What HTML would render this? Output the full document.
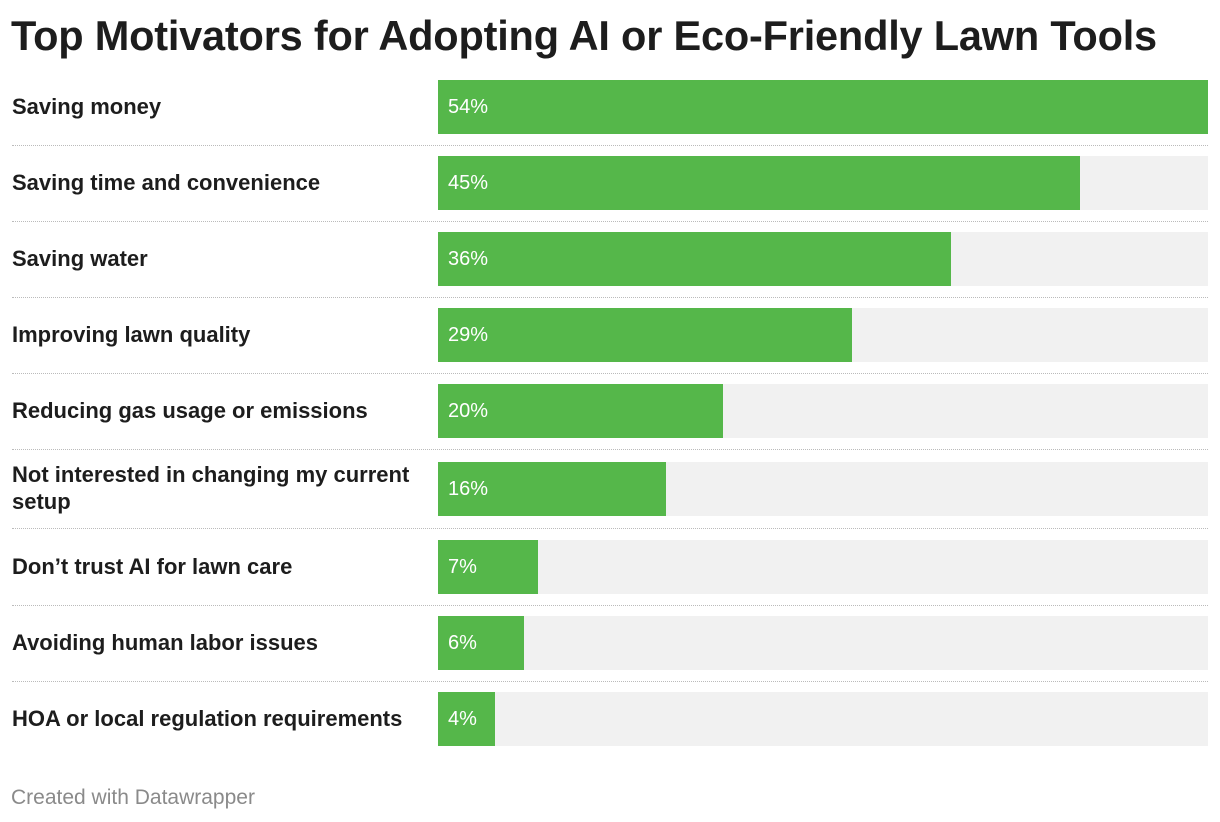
<!DOCTYPE html>
<html><head><meta charset="utf-8">
<style>
body{margin:0;background:#fff;font-family:"Liberation Sans",Arial,sans-serif;}
#wrap{position:relative;width:1220px;height:822px;overflow:hidden;}
h1{position:absolute;left:11px;top:12px;margin:0;font-size:41.5px;font-weight:bold;color:#1d1d1d;letter-spacing:-0.2px;white-space:nowrap;}
.lbl{position:absolute;left:12px;width:420px;font-size:22px;font-weight:bold;color:#1d1d1d;line-height:27px;}
.bg{position:absolute;left:438px;width:770px;height:54px;background:#f1f1f1;}
.bar{position:absolute;left:438px;height:54px;background:#55b74a;}
.val{position:absolute;left:448px;font-size:20px;color:#fff;line-height:54px;}
.sep{position:absolute;left:12px;width:1196px;border-top:1px dotted #bbb;}
#foot{position:absolute;left:11px;top:786px;font-size:21px;color:#8a8a8a;}
</style></head><body>
<div id="wrap">
<h1>Top Motivators for Adopting AI or Eco-Friendly Lawn Tools</h1>
<div id="rows"></div>
<div id="foot">Created with Datawrapper</div>
</div>
<script>
const categories=["Saving money","Saving time and convenience","Saving water","Improving lawn quality","Reducing gas usage or emissions","Not interested in changing my current setup","Don’t trust AI for lawn care","Avoiding human labor issues","HOA or local regulation requirements"];
const values=[54,45,36,29,20,16,7,6,4];
const valueLabels=["54%","45%","36%","29%","20%","16%","7%","6%","4%"];
const xMax=54, plotW=770;
function x(v){return v/xMax*plotW;}
const root=document.getElementById('rows');
let rowTop=80;
categories.forEach((c,i)=>{
  const twoLine=c.length>40;
  const bg=document.createElement('div');bg.className='bg';bg.style.top=rowTop+'px';
  
  
  root.appendChild(bg);
  const b=document.createElement('div');b.className='bar';b.style.top=rowTop+'px';b.style.width=x(values[i])+'px';
  
  
  root.appendChild(b);
  const v=document.createElement('div');v.className='val';v.style.top=rowTop+'px';v.textContent=valueLabels[i];
  
  
  root.appendChild(v);
  const l=document.createElement('div');l.className='lbl';l.textContent=c;
  l.style.top=(twoLine?rowTop-1:rowTop+13)+'px';
  
  
  root.appendChild(l);
  if(i<categories.length-1){
    const s=document.createElement('div');s.className='sep';
    const next=rowTop+(twoLine?78:76)+(i===4?2:0);
    s.style.top=(twoLine?rowTop+66:rowTop+65)+'px';
    
    
    root.appendChild(s);
    rowTop=next;
  }
});
</script>
</body></html>
